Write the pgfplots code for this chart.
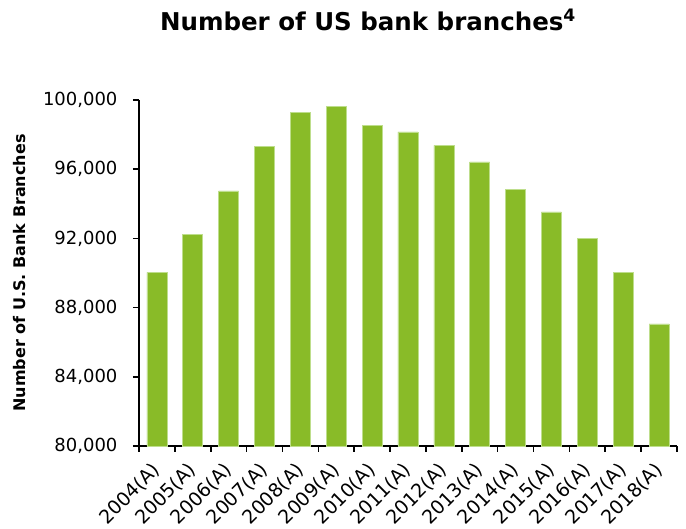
\documentclass[border=0pt]{standalone}
\usepackage{pgfplots}
\pgfplotsset{compat=1.18}
\usepackage{fontspec}
\setmainfont{DejaVu Sans}
\definecolor{barg}{RGB}{137,187,40}
\definecolor{bare}{RGB}{190,222,140}
\begin{document}
\begin{tikzpicture}
\useasboundingbox (-139pt,-83pt) rectangle (547pt,446pt);
\begin{axis}[
  at={(0,0)}, anchor=south west,
  scale only axis, width=538pt, height=346pt,
  xmin=-0.5, xmax=14.5, ymin=80000, ymax=100000,
  axis x line*=bottom, axis y line*=left,
  axis line style={line width=1.6pt, -},
  xtick={0,...,14},
  xticklabels={2004(A),2005(A),2006(A),2007(A),2008(A),2009(A),2010(A),2011(A),2012(A),2013(A),2014(A),2015(A),2016(A),2017(A),2018(A)},
  minor xtick={-0.5,0.5,...,14.5},
  major x tick style={draw=none},
  minor x tick style={line width=1.6pt, black},
  minor tick length=6pt,
  ytick={80000,84000,88000,92000,96000,100000},
  yticklabels={{80,000},{84,000},{88,000},{92,000},{96,000},{100,000}},
  y tick style={line width=1.6pt, black},
  major tick length=6pt,
  tick align=outside,
  scaled y ticks=false,
  yticklabel style={font=\fontsize{18}{21}\selectfont, xshift=-12pt},
  xticklabel style={font=\fontsize{19}{23}\selectfont, xshift=-6pt, yshift=-7.5pt, rotate=45, anchor=north east, inner sep=1pt},
  ybar, bar width=20pt,
  clip=false,
]
\addplot[fill=barg, draw=bare, line width=0.6pt] coordinates {
(0,90040) (1,92240) (2,94740) (3,97340) (4,99290) (5,99610) (6,98540)
(7,98150) (8,97380) (9,96420) (10,94850) (11,93530) (12,92020) (13,90040) (14,87060)
};
\end{axis}
\node[font=\bfseries\fontsize{24.5}{28}\selectfont, anchor=base] at (229pt,415pt) {Number of US bank branches\textsuperscript{4}};
\node[font=\bfseries\fontsize{16}{19}\selectfont, rotate=90] at (-119pt,173pt) {Number of U.S. Bank Branches};
\end{tikzpicture}
\end{document}
